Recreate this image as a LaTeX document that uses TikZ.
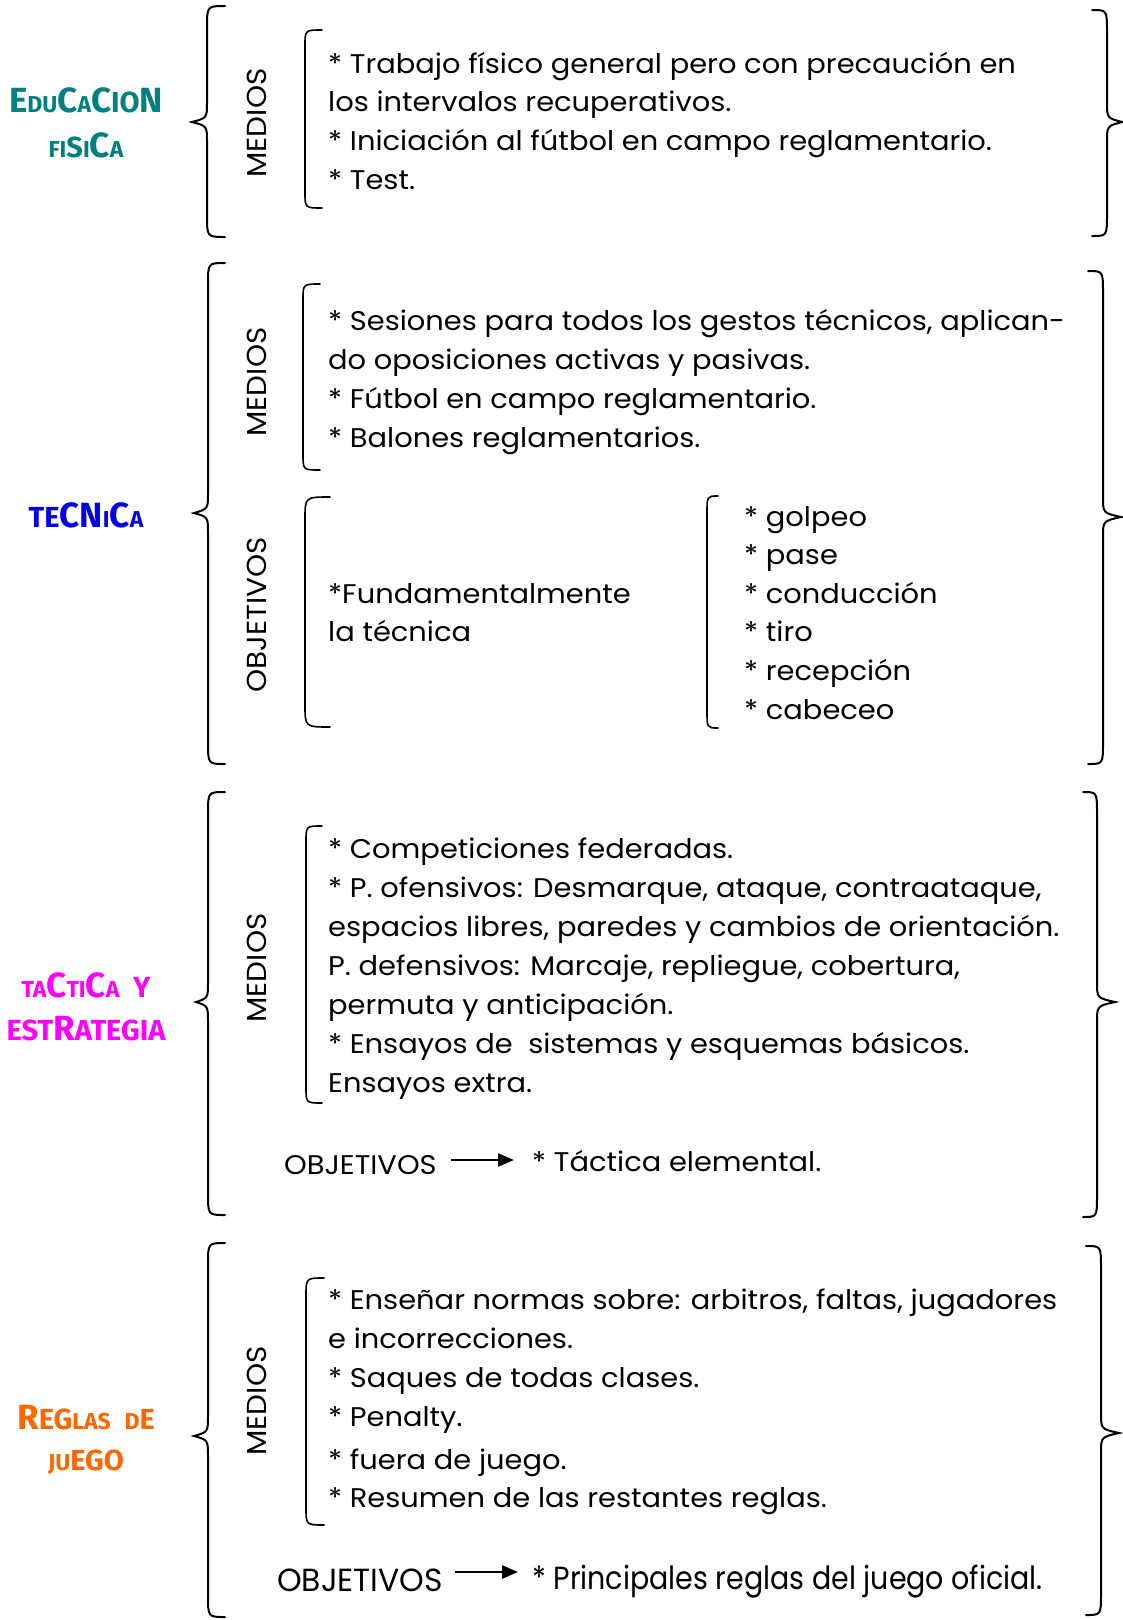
\documentclass[tikz,border=0pt]{standalone}
\usepackage{fontspec}
\setmainfont[FakeStretch=1.07]{Poppins}
\newfontfamily\labfont{Fira Sans}
\newfontfamily\narrowA[FakeStretch=0.98]{Poppins}
\newfontfamily\narrowB[FakeStretch=0.89]{Poppins}
\usetikzlibrary{arrows.meta}
\definecolor{cteal}{RGB}{0,128,128}
\definecolor{cblue}{RGB}{0,0,240}
\definecolor{cmag}{RGB}{255,0,255}
\definecolor{corange}{RGB}{255,102,0}
\newcommand\lbig[1]{{\fontsize{35}{35}\selectfont #1}}
\newcommand\lmid[1]{{\fontsize{29}{29}\selectfont #1}}
\newcommand\lsml[1]{{\fontsize{23}{23}\selectfont #1}}
% brace: end x, vertical x, tip x, y top, y tip, y bottom
\newcommand\mybrace[6]{%
  \draw[brc] (#1,#4) .. controls (#2,#4) .. (#2,#4+22) -- (#2,#5-20)
    .. controls (#2,#5-4) .. (#3,#5) .. controls (#2,#5+4) .. (#2,#5+20)
    -- (#2,#6-22) .. controls (#2,#6) .. (#1,#6);}
% bracket: end x, vertical x, y top, y bottom, radius
\newcommand\mybrk[5]{%
  \draw[brk] (#1,#3) .. controls (#2,#3) .. (#2,#3+#5) -- (#2,#4-#5)
    .. controls (#2,#4) .. (#1,#4);}
\tikzset{
  brc/.style={line width=2pt, line cap=round},
  brk/.style={line width=1.6pt, line cap=round},
  txt/.style={anchor=base west, inner sep=0pt, font=\fontsize{27}{27}\selectfont},
  rot/.style={rotate=90, inner sep=0pt, font=\fontsize{27.5}{27.5}\selectfont},
  lab/.style={inner sep=0pt, font=\labfont\bfseries},
  arr/.style={line width=2.5pt, -{Triangle[length=16pt,width=13pt]}}
}
\begin{document}
\begin{tikzpicture}[x=1pt,y=-1pt]
\useasboundingbox (0,0) rectangle (1123,1620);
\fill[white] (0,0) rectangle (1123,1620);

% ---------- Section 1: Educacion fisica ----------
\node[lab, text=cteal] (l1a) at (86,100) {\lbig{E}\lsml{DU}\lbig{C}\lsml{A}\lbig{C}\lmid{IO}\lbig{N}};
\node[lab, text=cteal] (l1b) at (86,145) {\lsml{FI}\lmid{S}\lsml{I}\lbig{C}\lsml{A}};
\mybrace{225}{207}{192}{6}{122}{237}
\mybrace{1092}{1107}{1122}{10}{122}{236}
\node[rot] (m1) at (257,123) {MEDIOS};
\mybrk{322}{305}{30}{208}{16}
\node[txt] (s1a) at (328,73) {* Trabajo físico general pero con precaución en};
\node[txt] (s1b) at (328,111.5) {los intervalos recuperativos.};
\node[txt] (s1c) at (328,150) {* Iniciación al fútbol en campo reglamentario.};
\node[txt] (s1d) at (328,189) {* Test.};

% ---------- Section 2: Tecnica ----------
\node[lab, text=cblue] (l2) at (86,515) {\lmid{TE}\lbig{CN}\lsml{I}\lbig{C}\lsml{A}};
\mybrace{225}{208}{194}{263}{513}{764}
\mybrace{1088}{1103}{1121}{271}{517}{764}
\node[rot] (m2) at (257,382) {MEDIOS};
\mybrk{320}{303}{284}{470}{16}
\node[txt] (s2a) at (328,330) {* Sesiones para todos los gestos técnicos, aplican-};
\node[txt] (s2b) at (328,369) {do oposiciones activas y pasivas.};
\node[txt] (s2c) at (328,408) {* Fútbol en campo reglamentario.};
\node[txt] (s2d) at (328,447) {* Balones reglamentarios.};
\node[rot] (o2) at (257,615) {OBJETIVOS};
\mybrk{330}{305}{497}{727}{22}
\node[txt] (f2a) at (328,603) {*Fundamentalmente};
\node[txt] (f2b) at (328,641) {la técnica};
\mybrk{718}{707}{496}{728}{18}
\node[txt] (g1) at (744,526) {* golpeo};
\node[txt] (g2) at (744,564) {* pase};
\node[txt] (g3) at (744,603) {* conducción};
\node[txt] (g4) at (744,641) {* tiro};
\node[txt] (g5) at (744,680) {* recepción};
\node[txt] (g6) at (744,719) {* cabeceo};

% ---------- Section 3: Tactica y estrategia ----------
\node[lab, text=cmag] (l3a) at (86,985) {\lsml{TA}\lbig{C}\lsml{TI}\lbig{C}\lsml{A}\lmid{\ \ Y}};
\node[lab, text=cmag] (l3b) at (86,1029) {\lmid{EST}\lbig{R}\lmid{ATEGIA}};
\mybrace{225}{208}{196}{792}{1002}{1215}
\mybrace{1083}{1097}{1115}{792}{1002}{1217}
\node[rot] (m3) at (257,968) {MEDIOS};
\mybrk{322}{306}{826}{1103}{16}
\node[txt] (s3a) at (328,858) {* Competiciones federadas.};
\node[txt] (s3b) at (328,897) {* P. ofensivos: Desmarque, ataque, contraataque,};
\node[txt] (s3c) at (328,936) {espacios libres, paredes y cambios de orientación.};
\node[txt] (s3d) at (328,975) {P. defensivos: Marcaje, repliegue, cobertura,};
\node[txt] (s3e) at (328,1014) {permuta y anticipación.};
\node[txt] (s3f) at (328,1053) {* Ensayos de \ sistemas y esquemas básicos.};
\node[txt] (s3g) at (328,1092) {Ensayos extra.};
\node[txt] (o3) at (284,1174) {OBJETIVOS};
\node[txt] (t3) at (532,1171) {* Táctica elemental.};
\coordinate (a3s) at (451,1160);
\coordinate (a3e) at (514,1160);
\draw[arr] (a3s) -- (a3e);

% ---------- Section 4: Reglas de juego ----------
\node[lab, text=corange] (l4a) at (86,1418) {\lbig{R}\lmid{EG}\lsml{LAS}\lmid{\ \ }\lsml{D}\lmid{E}};
\node[lab, text=corange] (l4b) at (86,1462) {\lsml{JU}\lmid{EGO}};
\mybrace{225}{208}{194}{1243}{1436}{1617}
\mybrace{1086}{1101}{1119}{1246}{1433}{1615}
\node[rot] (m4) at (257,1401) {MEDIOS};
\mybrk{324}{306}{1278}{1525}{18}
\node[txt] (s4a) at (328,1309) {* Enseñar normas sobre: arbitros, faltas, jugadores};
\node[txt] (s4b) at (328,1348) {e incorrecciones.};
\node[txt] (s4c) at (328,1387) {* Saques de todas clases.};
\node[txt] (s4d) at (328,1426) {* Penalty.};
\node[txt] (s4e) at (328,1469) {* fuera de juego.};
\node[txt] (s4f) at (328,1507) {* Resumen de las restantes reglas.};
\node[txt, font=\narrowA\fontsize{32}{32}\selectfont] (o4) at (277,1591) {OBJETIVOS};
\node[txt, font=\narrowB\fontsize{32}{32}\selectfont] (t4) at (532,1589) {* Principales reglas del juego oficial.};
\coordinate (a4s) at (455,1572);
\coordinate (a4e) at (518,1572);
\draw[arr] (a4s) -- (a4e);
\end{tikzpicture}
\end{document}
